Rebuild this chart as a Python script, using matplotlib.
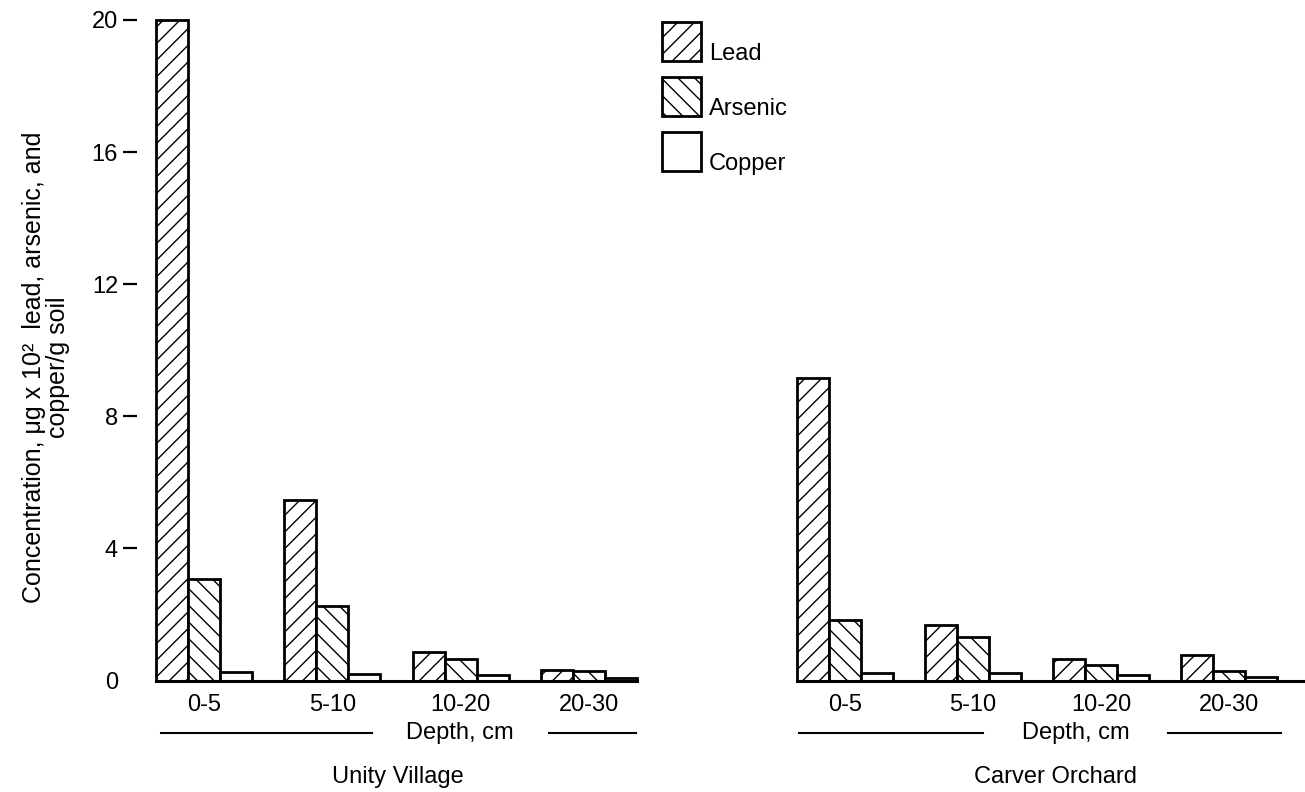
import numpy as np
import matplotlib
matplotlib.use("Agg")
import matplotlib.pyplot as plt
from matplotlib.patches import Rectangle

plt.rcParams["font.family"] = ["Liberation Sans", "DejaVu Sans"]
plt.rcParams["hatch.color"] = "black"
plt.rcParams["hatch.linewidth"] = 1.0

depths = ["0-5", "5-10", "10-20", "20-30"]
sites = ["Unity Village", "Carver Orchard"]
metals = ["Lead", "Arsenic", "Copper"]
hatches = ["//", "\\\\", ""]

unity_lead = [20.0, 5.48, 0.86, 0.33]
unity_arsenic = [3.07, 2.25, 0.66, 0.28]
unity_copper = [0.27, 0.21, 0.18, 0.08]

carver_lead = [9.15, 1.67, 0.66, 0.76]
carver_arsenic = [1.84, 1.32, 0.46, 0.30]
carver_copper = [0.22, 0.22, 0.17, 0.10]

yticks = [4, 8, 12, 16, 20]

W, H = 1305, 792
fig = plt.figure(figsize=(W / 100, H / 100), dpi=100)
bottom = (H - 680.5) / H
height = 660.5 / H
ax1 = fig.add_axes([156 / W, bottom, 481 / W, height])
ax2 = fig.add_axes([797 / W, bottom, 508 / W, height])

x = np.arange(len(depths))
w = 0.25
panels = [
    (ax1, [unity_lead, unity_arsenic, unity_copper], 3.375),
    (ax2, [carver_lead, carver_arsenic, carver_copper], 3.59),
]
for ax, series, xmax in panels:
    for k, (vals, h) in enumerate(zip(series, hatches)):
        ax.bar(x + (k - 1) * w, vals, width=w, facecolor="white",
               edgecolor="black", linewidth=2.0, hatch=h, clip_on=False, zorder=3)
    ax.set_xlim(-0.375, xmax)
    ax.set_ylim(0, 20)
    for s in ["top", "right"]:
        ax.spines[s].set_visible(False)
    ax.spines["bottom"].set_linewidth(2.2)
    ax.spines["bottom"].set_zorder(4)
    ax.spines["left"].set_color("none")
    ax.set_xticks(x)
    ax.set_xticklabels(depths, fontsize=17)
    ax.tick_params(axis="x", length=0, pad=10)

# y axis: dashes only on the left panel (outward offset is in points)
ax1.spines["left"].set_position(("outward", 13.7))
ax1.set_yticks(yticks)
ax1.set_yticklabels([str(t) for t in yticks], fontsize=17)
ax1.tick_params(axis="y", length=10, width=1.6, pad=3.6, direction="out")
ax1.set_yticks([0], minor=True)
ax1.set_yticklabels(["0"], minor=True, fontsize=17)
ax1.tick_params(axis="y", which="minor", length=0, pad=13.7)
ax2.set_yticks([])

fig.text(46 / W, 1 - 367 / H,
         "Concentration, \u03bcg x 10\u00b2  lead, arsenic, and\ncopper/g soil",
         rotation=90, ha="center", va="center", multialignment="center",
         fontsize=18, linespacing=0.95)

# depth captions, rules and site names
for ax, dx, segs, sx, site in [
    (ax1, 1.99, [(-0.336, 1.31), (2.69, 3.37)], 1.51, sites[0]),
    (ax2, 1.805, [(-0.36, 1.08), (2.52, 3.40)], 1.64, sites[1]),
]:
    tr = ax.get_xaxis_transform()
    ax.text(dx, -52.5 / 660.5, "Depth, cm", transform=tr, ha="center",
            va="center", fontsize=17)
    for a, b in segs:
        ax.plot([a, b], [-52.5 / 660.5] * 2, transform=tr, color="black",
                lw=1.5, clip_on=False)
    ax.text(sx, -96.5 / 660.5, site, transform=tr, ha="center",
            va="center", fontsize=17)

# legend drawn by hand (text sits on the bottom of each swatch)
for i, (name, h) in enumerate(zip(metals, hatches)):
    top = 22 + 55 * i
    fig.patches.append(Rectangle((662 / W, 1 - (top + 39) / H), 39 / W, 39 / H,
                                 transform=fig.transFigure, facecolor="white",
                                 edgecolor="black", linewidth=2.0, hatch=h))
    fig.text(709 / W, 1 - (top + 38) / H, name, ha="left", va="baseline",
             fontsize=17)

fig.savefig("out.png", dpi=100)
